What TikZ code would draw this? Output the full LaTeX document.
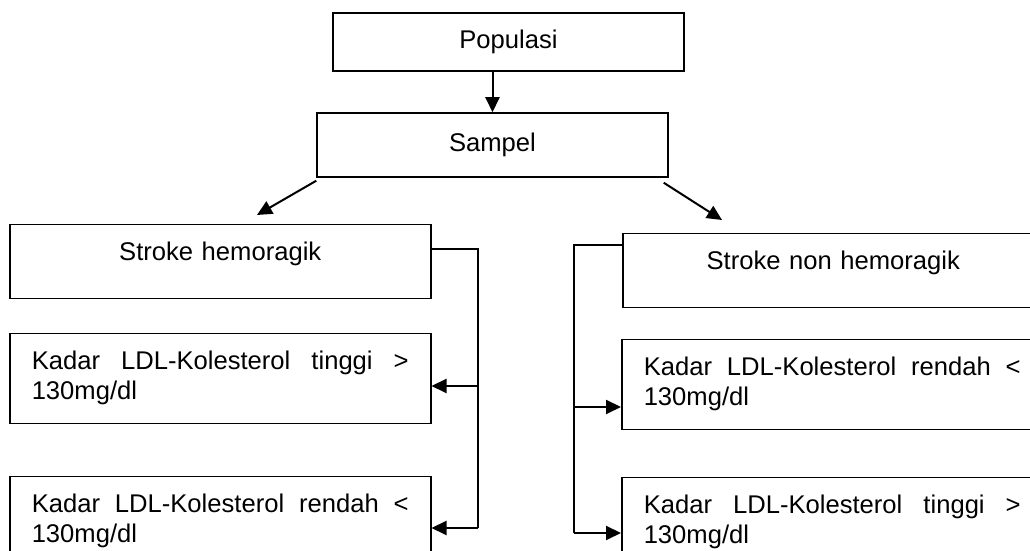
\documentclass[tikz,border=0pt]{standalone}
\usepackage{fontspec}
\setmainfont{Liberation Sans}
\usetikzlibrary{positioning,arrows.meta}
\tikzset{
  fctop/.style  ={rectangle, draw=black, line width=0.75pt, minimum width=175.5pt,
                  minimum height=29pt, inner sep=0pt},
  fchead/.style ={rectangle, draw=black, line width=0.75pt, anchor=north west,
                  text width=188.5pt, align=center, inner xsep=11pt, inner ysep=9pt,
                  text height=9pt, text depth=10pt},
  fcitem/.style ={fchead, align=justify, text depth=18pt},
  fcline/.style ={line width=1pt, black},
  fcarr/.style  ={fcline, -{Triangle[length=7.5pt,width=7pt]}},
}

\begin{document}
\begin{tikzpicture}[x=0.5pt, y=0.5pt, font=\fontsize{12.8}{15}\selectfont]
        \useasboundingbox (0,0) rectangle (1030,551);
        \clip (0,0) rectangle (1030,551);
        % populasi dan sampel
        \node[fctop] (pop) at (508.5,509) {Populasi};
        \node[fctop, minimum height=32pt] (samp) at (492.5,406) {Sampel};
        \draw[fcarr] (samp.north |- pop.south) -- (samp.north);
        \coordinate (la) at (257,336);
        \coordinate (ra) at (722,331);
        \draw[fcarr] ([yshift=-1.5pt]samp.south west) -- (la);
        \draw[fcarr] ([xshift=-2.5pt,yshift=-2.5pt]samp.south east) -- (ra);
        % cabang kiri
        \node[fchead] (sh) at (9,327) {Stroke hemoragik};
        \node[fcitem] (kt) at (9,218) {Kadar LDL-Kolesterol tinggi >\linebreak 130mg/dl};
        \node[fcitem] (kr) at (9,75) {Kadar LDL-Kolesterol rendah <\linebreak 130mg/dl};
        \coordinate (lb) at (478,23);
        \coordinate (ktin) at ([yshift=-26.5pt]kt.north east);
        \draw[fcline] ([yshift=6.5pt]sh.east) -| (lb);
        \draw[fcarr] (lb |- ktin) -- (ktin);
        \draw[fcarr] (lb) -- (lb -| kr.east);
        % cabang kanan
        \node[fchead] (snh) at (622,318) {Stroke non hemoragik};
        \node[fcitem] (kr2) at (621,212) {Kadar LDL-Kolesterol rendah <\linebreak 130mg/dl};
        \node[fcitem] (kt2) at (621,74) {Kadar LDL-Kolesterol tinggi >\linebreak 130mg/dl};
        \coordinate (rb) at (574,18);
        \coordinate (krin) at ([yshift=-34pt]kr2.north west);
        \draw[fcline] ([yshift=13pt]snh.west) -| (rb);
        \draw[fcarr] (rb |- krin) -- (krin);
        \draw[fcarr] (rb) -- (rb -| kt2.west);
    \end{tikzpicture}
\end{document}
